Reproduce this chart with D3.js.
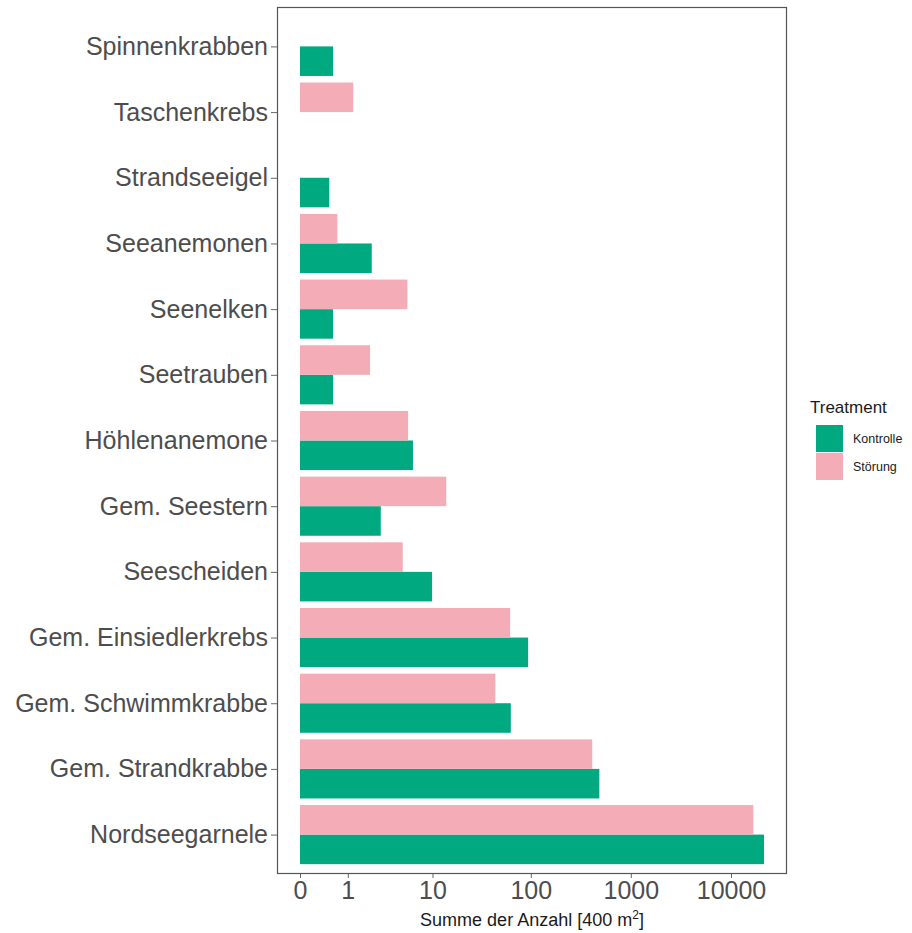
<!DOCTYPE html>
<html>
<head>
<meta charset="utf-8">
<script src="https://cdn.jsdelivr.net/npm/d3@7"></script>
<style>
  body { margin: 0; background: #fff; }
  text { font-family: "Liberation Sans", Arial, sans-serif; }
</style>
</head>
<body>
<div id="chart"></div>
<script>
// Data (bottom to top, as drawn)
const species = ['Nordseegarnele', 'Gem. Strandkrabbe', 'Gem. Schwimmkrabbe', 'Gem. Einsiedlerkrebs',
  'Seescheiden', 'Gem. Seestern', 'Höhlenanemone', 'Seetrauben', 'Seenelken', 'Seeanemonen',
  'Strandseeigel', 'Taschenkrebs', 'Spinnenkrabben']
const kontrolle = [21350, 485, 63, 94, 9.9, 2.7, 6.2, 0.57, 0.57, 2.1, 0.48, null, 0.57]
const stoerung  = [16700, 412, 44, 62, 4.8, 13.9, 5.5, 2.0, 5.4, 0.68, null, 1.2, null]
const treatments = ['Kontrolle', 'Störung']
const colors = ['#00a980', '#f4adb6']
const xTicks = [0, 1, 10, 100, 1000, 10000]

// Canvas
const W = 912, H = 933
const p = { left: 277, right: 787, top: 7, bottom: 874 }

const svg = d3.select('#chart').append('svg')
  .attr('width', W)
  .attr('height', H)

// Scales
const x = d3.scaleSymlog().constant(0.5).domain([0, 10000]).range([300, 731])
const y = d3.scalePoint().domain(species).range([p.bottom, p.top]).padding(0.6)
const bh = y.step() * 0.45
const color = d3.scaleOrdinal().domain(treatments).range(colors)

const rows = []
species.forEach((s, i) => {
  if (kontrolle[i] != null) rows.push({ s, t: 'Kontrolle', v: kontrolle[i] })
  if (stoerung[i] != null) rows.push({ s, t: 'Störung', v: stoerung[i] })
})

// Bars
svg.append('g').selectAll('rect')
  .data(rows).enter()
  .append('rect')
  .attr('x', x(0))
  .attr('y', d => d.t === 'Kontrolle' ? y(d.s) : y(d.s) - bh)
  .attr('width', d => x(d.v) - x(0))
  .attr('height', bh)
  .attr('fill', d => color(d.t))

// Panel border
svg.append('rect')
  .attr('x', p.left + 0.5)
  .attr('y', p.top + 0.5)
  .attr('width', p.right - p.left - 1)
  .attr('height', p.bottom - p.top - 1)
  .attr('fill', 'none')
  .attr('stroke', '#555')
  .attr('stroke-width', 1.2)

// Axes
const yAxis = svg.append('g')
  .attr('transform', `translate(${p.left},0)`)
  .call(d3.axisLeft(y).tickSize(6).tickPadding(3))
yAxis.select('.domain').remove()
yAxis.selectAll('line').attr('stroke', '#666')
yAxis.selectAll('text')
  .attr('font-size', 25)
  .attr('fill', '#4d4d4d')
  .attr('font-family', '"Liberation Sans", Arial, sans-serif')

const xAxis = svg.append('g')
  .attr('transform', `translate(0,${p.bottom})`)
  .call(d3.axisBottom(x).tickValues(xTicks).tickFormat(d3.format('d')).tickSize(4).tickPadding(3))
xAxis.select('.domain').remove()
xAxis.selectAll('line').attr('stroke', '#666')
xAxis.selectAll('text')
  .attr('font-size', 25)
  .attr('fill', '#4d4d4d')
  .attr('font-family', '"Liberation Sans", Arial, sans-serif')

// Axis title
const title = svg.append('text')
  .attr('x', (p.left + p.right) / 2)
  .attr('y', 926)
  .attr('text-anchor', 'middle')
  .attr('font-size', 18)
  .attr('fill', '#1a1a1a')
title.append('tspan').text('Summe der Anzahl [400 m')
title.append('tspan').attr('font-size', 12).attr('dy', -7).text('2')
title.append('tspan').attr('dy', 7).text(']')

// Legend
const lg = svg.append('g').attr('transform', 'translate(810,0)')
lg.append('text')
  .attr('x', 0).attr('y', 413)
  .attr('font-size', 17)
  .attr('fill', '#1a1a1a')
  .text('Treatment')
lg.selectAll('rect.key')
  .data(treatments).enter()
  .append('rect')
  .attr('class', 'key')
  .attr('x', 6)
  .attr('y', (d, i) => 425 + i * 28)
  .attr('width', 27)
  .attr('height', 27)
  .attr('fill', d => color(d))
lg.selectAll('text.lab')
  .data(treatments).enter()
  .append('text')
  .attr('class', 'lab')
  .attr('x', 43)
  .attr('y', (d, i) => 439 + i * 28)
  .attr('dy', '0.35em')
  .attr('font-size', 12.5)
  .attr('fill', '#1a1a1a')
  .text(d => d)
</script>
</body>
</html>
